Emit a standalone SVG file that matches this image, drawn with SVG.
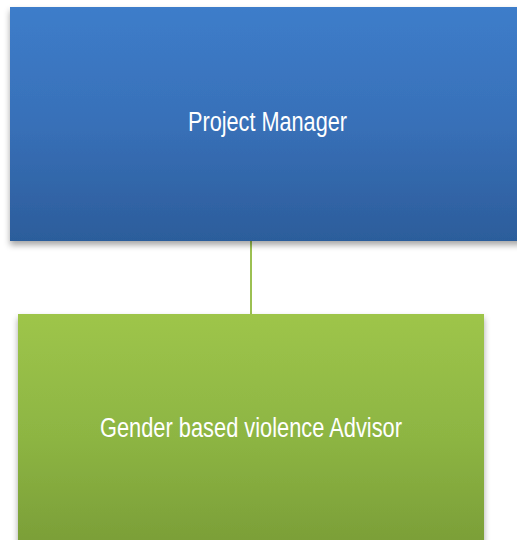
<svg xmlns="http://www.w3.org/2000/svg" width="517" height="540" viewBox="0 0 517 540">
  <defs>
    <linearGradient id="blueFill" x1="0" y1="0" x2="0" y2="1">
      <stop offset="0" stop-color="#3d7dca"/>
      <stop offset="0.5" stop-color="#3870b8"/>
      <stop offset="1" stop-color="#2c5d9b"/>
    </linearGradient>
    <linearGradient id="greenFill" x1="0" y1="0" x2="0" y2="1">
      <stop offset="0" stop-color="#9ec54a"/>
      <stop offset="0.5" stop-color="#8db543"/>
      <stop offset="1" stop-color="#789b36"/>
    </linearGradient>
    <filter id="shadow" x="-10%" y="-10%" width="120%" height="130%">
      <feDropShadow dx="0" dy="4" stdDeviation="3" flood-color="#000" flood-opacity="0.35"/>
    </filter>
  </defs>
  <style>
    .label { font-family: "Liberation Sans", Arial, sans-serif; font-size: 27px; fill: #ffffff; text-anchor: middle; }
    .link { stroke: #9cc052; stroke-width: 2; fill: none; }
  </style>
  <rect width="517" height="540" fill="#ffffff"/>

  <g id="connectors">
    <line class="link" x1="251" y1="241" x2="251" y2="314"/>
  </g>

  <g id="project-manager">
    <rect x="10" y="7" width="515" height="234" fill="url(#blueFill)" filter="url(#shadow)"/>
    <text class="label" x="267.5" y="131" textLength="159" lengthAdjust="spacingAndGlyphs">Project Manager</text>
  </g>

  <g id="gbv-advisor">
    <rect x="18" y="314" width="466" height="246" fill="url(#greenFill)" filter="url(#shadow)"/>
    <text class="label" x="251" y="437" textLength="302" lengthAdjust="spacingAndGlyphs">Gender based violence Advisor</text>
  </g>
</svg>
